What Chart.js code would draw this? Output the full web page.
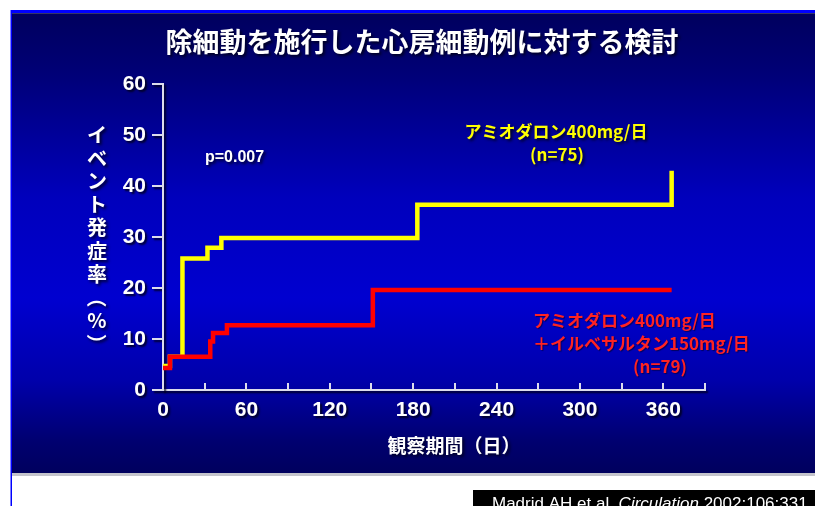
<!DOCTYPE html>
<html>
<head>
<meta charset="utf-8">
<script src="https://cdn.jsdelivr.net/npm/chart.js@4.4.1/dist/chart.umd.min.js"></script>
<style>
  html, body { margin: 0; padding: 0; background: #fff; overflow: hidden; }
  canvas { display: block; }
</style>
</head>
<body>
<canvas id="myChart" width="815" height="506" style="width:815px;height:506px"></canvas>
<script>
// amiodarone alone (yellow) and amiodarone + irbesartan (red), event rate %
const amioDays = [0, 5, 14, 32, 42, 183, 366];
const amioRate = [4.7, 6.5, 25.8, 27.9, 29.8, 36.3, 43];
const comboDays = [0, 5, 34, 36, 46, 151, 366];
const comboRate = [4.3, 6.5, 9.5, 11.2, 12.7, 19.6, 19.6];

const xMax = 390, xStep = 30, xLabelEvery = 60;
const yMax = 60, yStep = 10;

const jp = '"Noto Sans CJK JP", sans-serif';
const sans = '"Liberation Sans", Arial, sans-serif';

function toPoints(xs, ys) {
  return xs.map((x, i) => ({ x: x, y: ys[i] }));
}

function shadowOn(ctx, blur) {
  ctx.shadowColor = 'rgba(0,0,20,0.85)';
  ctx.shadowOffsetX = 2;
  ctx.shadowOffsetY = 2;
  ctx.shadowBlur = blur || 2;
}

const slide = {
  id: 'slide',
  beforeDraw(chart) {
    const ctx = chart.ctx, w = chart.width, h = chart.height;
    ctx.save();
    ctx.fillStyle = '#fff';
    ctx.fillRect(0, 0, w, h);
    ctx.fillStyle = '#c4c4cc';
    ctx.fillRect(12, 473, w - 12, 3);
    let g = ctx.createLinearGradient(0, 13, 0, 473);
    g.addColorStop(0, '#00005e');
    g.addColorStop(0.12, '#000074');
    g.addColorStop(0.4, '#0000bc');
    g.addColorStop(0.62, '#0000d0');
    g.addColorStop(0.8, '#0000aa');
    g.addColorStop(0.93, '#000070');
    g.addColorStop(1, '#00005e');
    ctx.fillStyle = g;
    ctx.fillRect(12, 13, w - 12, 460);
    ctx.fillStyle = '#0000ff';
    ctx.fillRect(11, 10, w - 11, 3);
    ctx.fillStyle = '#34346a';
    ctx.fillRect(12, 13, w - 12, 1);
    ctx.fillStyle = '#0000ff';
    ctx.fillRect(10.5, 10, 1.5, h - 10);

    // citation box
    ctx.fillStyle = '#000';
    ctx.fillRect(473, 490, w - 473, h - 490);
    ctx.fillStyle = '#fff';
    ctx.textBaseline = 'alphabetic';
    let cx = 492;
    ctx.font = '17px ' + sans;
    ctx.fillText('Madrid AH et al. ', cx, 509);
    cx += ctx.measureText('Madrid AH et al. ').width;
    ctx.font = 'italic 17px ' + sans;
    ctx.fillText('Circulation', cx, 509);
    cx += ctx.measureText('Circulation').width;
    ctx.font = '17px ' + sans;
    ctx.fillText(' 2002;106:331.', cx, 509);
    ctx.restore();

    // shadow for axis labels (cleared before datasets)
    ctx.save();
    shadowOn(ctx, 2);
  },
  beforeDatasetsDraw(chart) {
    chart.ctx.restore();
  },
  afterDraw(chart) {
    const ctx = chart.ctx;
    const xs = chart.scales.x, ys = chart.scales.y;
    const base = ys.getPixelForValue(0);

    ctx.save();
    // x ticks point upward into the plot
    ctx.strokeStyle = '#dcdcec';
    ctx.lineWidth = 2;
    xs.ticks.forEach(t => {
      if (t.value === 0) return;
      const px = Math.round(xs.getPixelForValue(t.value));
      ctx.beginPath();
      ctx.moveTo(px, base);
      ctx.lineTo(px, base - 7);
      ctx.stroke();
    });

    // title
    shadowOn(ctx, 3);
    ctx.fillStyle = '#fff';
    ctx.textAlign = 'center';
    ctx.textBaseline = 'middle';
    ctx.font = 'bold 27px ' + jp;
    ctx.fillText('除細動を施行した心房細動例に対する検討', 422, 42);

    // vertical y title, upright characters
    ctx.font = 'bold 20px ' + jp;
    const yTitle = 'イベント発症率（%）';
    Array.from(yTitle).forEach((ch, i) => {
      const cy = 135 + i * 23.2;
      if (ch === '（' || ch === '）') {
        ctx.save();
        ctx.translate(97, cy);
        ctx.rotate(Math.PI / 2);
        ctx.fillText(ch, 0, 0);
        ctx.restore();
      } else {
        ctx.fillText(ch, 97, cy);
      }
    });

    // x title
    ctx.font = 'bold 19px ' + jp;
    ctx.fillText('観察期間（日）', 454, 446);

    // p value
    ctx.font = 'bold 16px ' + sans;
    ctx.textAlign = 'left';
    ctx.fillText('p=0.007', 205, 158);

    // yellow label
    ctx.font = 'bold 17px ' + jp;
    ctx.fillStyle = '#ffff00';
    ctx.textAlign = 'center';
    ctx.fillText('アミオダロン400mg/日', 556, 132);
    ctx.fillText('(n=75)', 557, 155);

    // red label
    ctx.shadowColor = 'rgba(0,0,40,0.6)';
    ctx.shadowOffsetX = 1;
    ctx.shadowOffsetY = 1;
    ctx.shadowBlur = 1;
    ctx.fillStyle = '#ff2222';
    ctx.textAlign = 'left';
    ctx.fillText('アミオダロン400mg/日', 533, 321);
    ctx.fillText('＋イルベサルタン150mg/日', 533, 344);
    ctx.textAlign = 'center';
    ctx.fillText('(n=79)', 660, 367);
    ctx.restore();
  }
};

const ctx = document.getElementById('myChart').getContext('2d');
const chart = new Chart(ctx, {
  type: 'line',
  data: {
    datasets: [
      {
        label: 'アミオダロン400mg/日＋イルベサルタン150mg/日',
        data: toPoints(comboDays, comboRate),
        borderColor: '#ff0000',
        borderWidth: 4.5,
        stepped: true,
        pointRadius: 0,
        fill: false
      },
      {
        label: 'アミオダロン400mg/日',
        data: toPoints(amioDays, amioRate),
        borderColor: '#ffff00',
        borderWidth: 4.5,
        stepped: true,
        pointRadius: 0,
        fill: false
      }
    ]
  },
  options: {
    responsive: false,
    animation: false,
    layout: { padding: { left: 0, top: 84, right: 110, bottom: 0 } },
    plugins: {
      legend: { display: false },
      tooltip: { enabled: false }
    },
    scales: {
      x: {
        type: 'linear',
        min: 0,
        max: xMax,
        ticks: {
          stepSize: xStep,
          autoSkip: false,
          maxRotation: 0,
          padding: 8,
          color: '#ffffff',
          font: { family: sans, size: 21, weight: 'bold' },
          callback: v => (v % xLabelEvery === 0 ? v : '')
        },
        grid: { drawOnChartArea: false, drawTicks: false, color: 'rgba(0,0,0,0)' },
        border: { color: '#dcdcec', width: 2 },
        afterFit: s => { s.height = 116; }
      },
      y: {
        min: 0,
        max: yMax,
        ticks: {
          stepSize: yStep,
          padding: 6,
          color: '#ffffff',
          font: { family: sans, size: 21, weight: 'bold' }
        },
        grid: { drawOnChartArea: false, tickLength: 11, color: '#dcdcec', lineWidth: 2 },
        border: { color: '#dcdcec', width: 2 },
        afterFit: s => { s.width = 163; }
      }
    }
  },
  plugins: [slide]
});
</script>
</body>
</html>
